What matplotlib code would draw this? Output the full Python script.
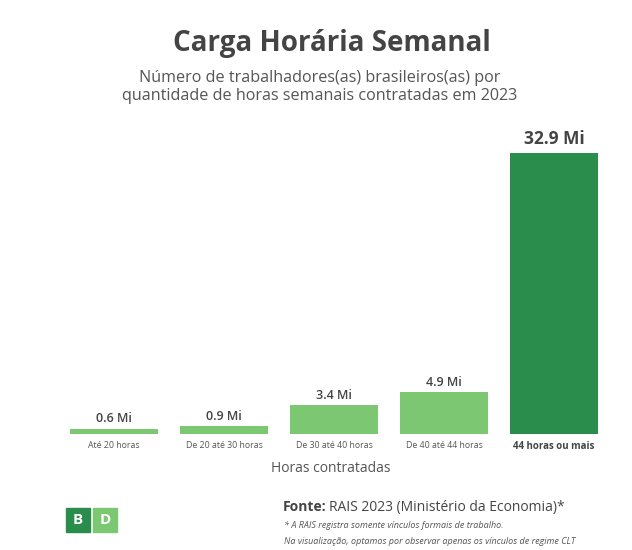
import matplotlib.pyplot as plt
from matplotlib.patches import Rectangle

categorias = ["Até 20 horas", "De 20 até 30 horas", "De 30 até 40 horas",
              "De 40 até 44 horas", "44 horas ou mais"]
valores = [0.6, 0.9, 3.4, 4.9, 32.9]
rotulos = ["0.6 Mi", "0.9 Mi", "3.4 Mi", "4.9 Mi", "32.9 Mi"]

verde_claro = "#7cc872"
verde_escuro = "#2b8d4c"
cinza = "#444444"

plt.rcParams['font.family'] = ['Open Sans', 'DejaVu Sans']

fig = plt.figure(figsize=(6.32, 5.5), dpi=100)
ax = fig.add_axes([60 / 632, 116 / 550, 548 / 632, 294 / 550])

cores = [verde_claro] * 4 + [verde_escuro]
x = range(len(categorias))
ax.bar(x, valores, width=0.8, color=cores, zorder=2)
ax.axhline(0, color="#eeeeee", lw=0.8, zorder=1)
ax.set_xlim(-0.49, 4.49)
ax.set_ylim(0, 34.4)

for i, (v, r) in enumerate(zip(valores, rotulos)):
    if i == 4:
        ax.text(i, v + 0.6, r, ha="center", va="bottom", fontsize=12.5,
                fontweight="bold", color=cinza)
    else:
        ax.text(i, v + 0.4, r, ha="center", va="bottom", fontsize=9,
                fontweight=600, color=cinza)

ax.set_xticks(list(x))
ax.set_xticklabels(categorias, fontsize=6.3, color="#555555")
ax.get_xticklabels()[-1].set_fontweight("bold")
ax.get_xticklabels()[-1].set_fontsize(7)
ax.get_xticklabels()[-1].set_color(cinza)
ax.tick_params(axis="x", length=0, pad=5)
ax.set_yticks([])
for s in ax.spines.values():
    s.set_visible(False)

fig.text(331 / 632, 1 - 468 / 550, "Horas contratadas", ha="center", va="center",
         fontsize=10, color="#555555")

fig.text(332 / 632, 1 - 43 / 550, "Carga Horária Semanal", ha="center", va="center",
         fontsize=20, fontweight="bold", color=cinza)
fig.text(320 / 632, 1 - 87 / 550,
         "Número de trabalhadores(as) brasileiros(as) por\nquantidade de horas semanais contratadas em 2023",
         ha="center", va="center", fontsize=11.6, color="#555555", linespacing=1.15)

# logo
fig.patches.append(Rectangle((66 / 632, 1 - 532 / 550), 24 / 632, 24 / 550,
                             transform=fig.transFigure, color=verde_escuro))
fig.patches.append(Rectangle((93 / 632, 1 - 532 / 550), 24 / 632, 24 / 550,
                             transform=fig.transFigure, color=verde_claro))
fig.text(78 / 632, 1 - 520 / 550, "B", ha="center", va="center", fontsize=11,
         fontweight="bold", color="white")
fig.text(105 / 632, 1 - 520 / 550, "D", ha="center", va="center", fontsize=11,
         fontweight="bold", color="white")

fig.text(283 / 632, 1 - 507 / 550, "Fonte:", ha="left", va="center", fontsize=10,
         fontweight="bold", color=cinza)
fig.text(329 / 632, 1 - 507 / 550, "RAIS 2023 (Ministério da Economia)*", ha="left",
         va="center", fontsize=10, color=cinza)
fig.text(284 / 632, 1 - 526 / 550, "* A RAIS registra somente vínculos formais de trabalho.",
         ha="left", va="center", fontsize=6.5, style="italic", color="#555555")
fig.text(284 / 632, 1 - 541 / 550,
         "Na visualização, optamos por observar apenas os vínculos de regime CLT",
         ha="left", va="center", fontsize=6.5, style="italic", color="#555555")

fig.savefig("out.png", dpi=100)
